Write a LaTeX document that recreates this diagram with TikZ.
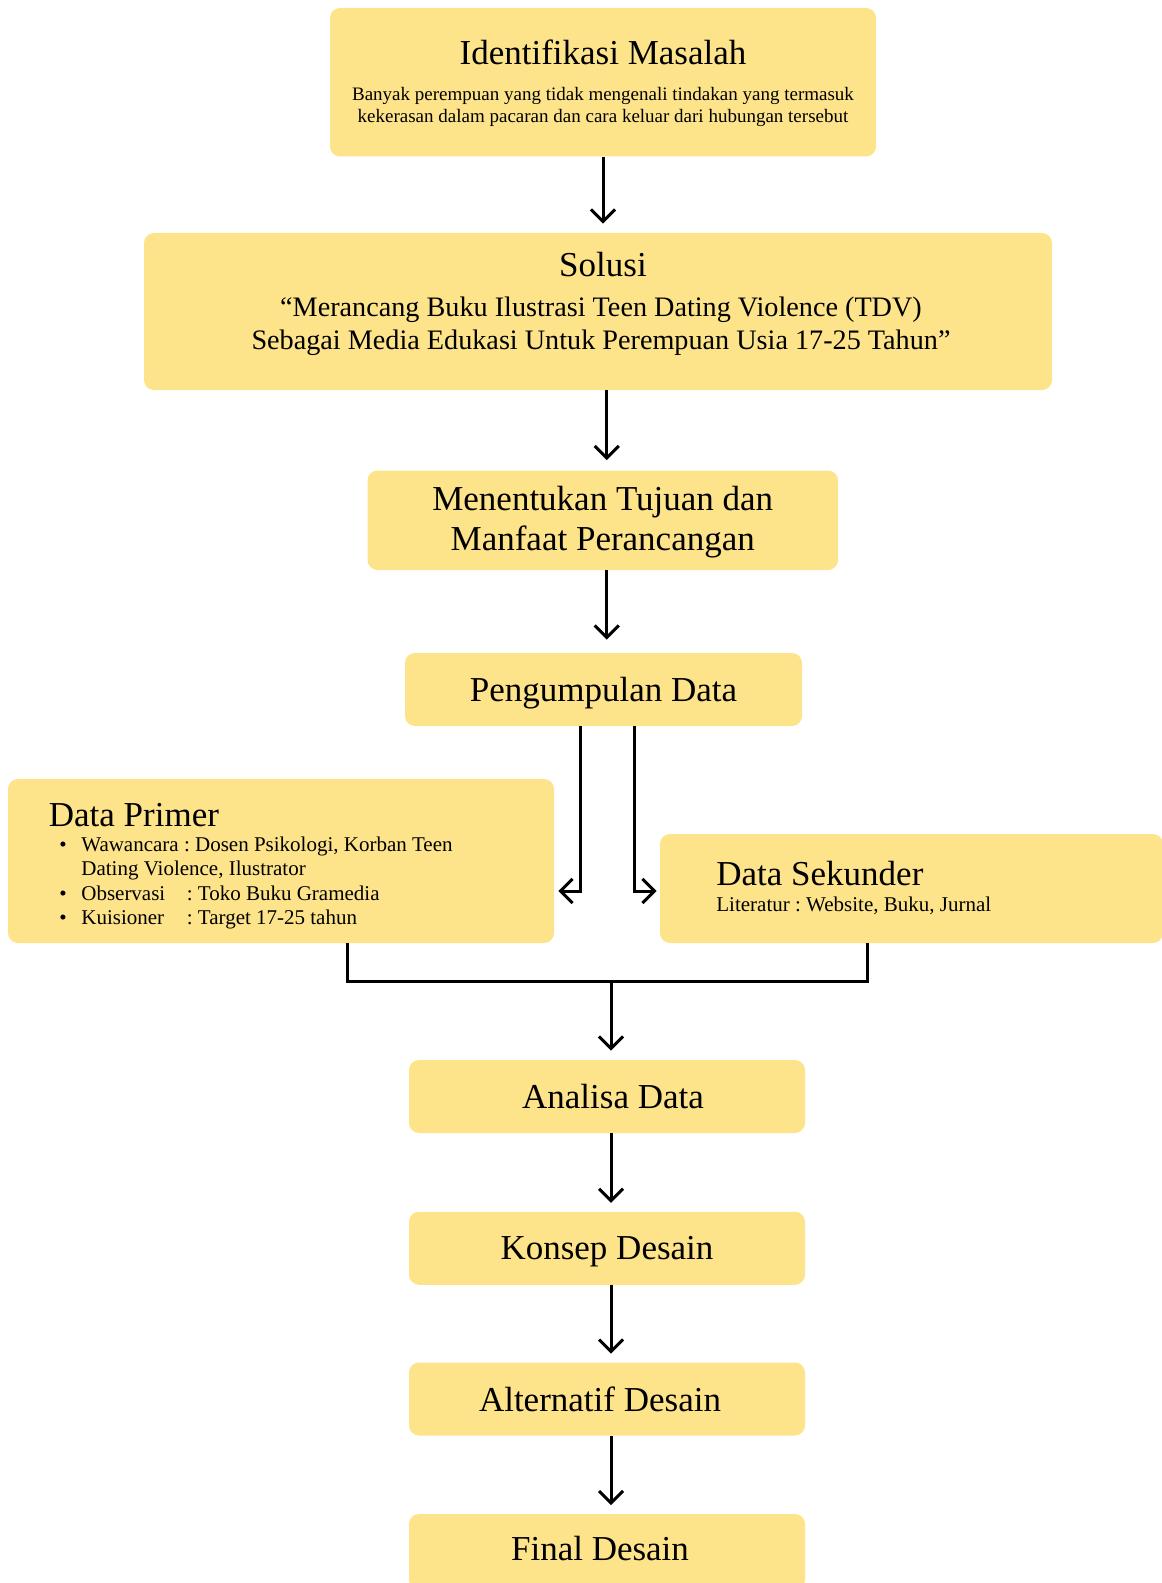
\documentclass[tikz,border=0pt]{standalone}
\usepackage{fontspec}
\setmainfont{Liberation Serif}
\usetikzlibrary{arrows.meta, positioning, calc}
\definecolor{boxyellow}{HTML}{FDE38A}

\begin{document}
\frenchspacing
\begin{tikzpicture}[
  x=0.5pt, y=-0.5pt,
  stepbox/.style={rectangle, fill=boxyellow, rounded corners=5pt, inner sep=0pt, align=center, text depth=0pt, font=\fontsize{17.5}{20.2}\selectfont},
  head/.style={inner sep=0pt, font=\fontsize{17.5}{20.2}\selectfont},
  body/.style={inner sep=0pt, align=center, font=\fontsize{9.5}{11}\selectfont},
  quote/.style={inner sep=0pt, align=center, font=\fontsize{14.1}{16.7}\selectfont},
  list/.style={inner sep=0pt, align=left, font=\fontsize{10.5}{12.15}\selectfont},
  arrow/.style={-{Straight Barb[length=6pt, width=12pt]}, line width=1.5pt},
  line/.style={line width=1.5pt}
]
  \useasboundingbox (0,0) rectangle (1161,1583);

  % boxes
  \node[stepbox, minimum width=273pt, minimum height=74.25pt] (ident) at (603,82.25) {};
  \node[head] (identTitle) at (603,52.5) {Identifikasi Masalah};
  \node[body] (identText) at (603,107) {Banyak perempuan yang tidak mengenali tindakan yang termasuk\\kekerasan dalam pacaran dan cara keluar dari hubungan tersebut};

  \node[stepbox, minimum width=454pt, minimum height=78.5pt] (solusi) at (598,311.5) {};
  \node[head] (solusiTitle) at (603,264.5) {Solusi};
  \node[quote] (solusiText) at (601,326.5) {“Merancang Buku Ilustrasi Teen Dating Violence (TDV)\\Sebagai Media Edukasi Untuk Perempuan Usia 17-25 Tahun”};

  \node[stepbox, minimum width=235.25pt, minimum height=49.75pt, text depth=2pt] (tujuan) at (602.75,520.25) {Menentukan Tujuan dan\\Manfaat Perancangan};
  \node[stepbox, minimum width=198.5pt, minimum height=36.5pt] (kumpul) at (603.5,689.5) {Pengumpulan Data};

  \node[stepbox, minimum width=273pt, minimum height=82pt] (primer) at (281,861) {};
  \node[head, anchor=west] (primerTitle) at (48.5,815) {Data Primer};
  \node[list, anchor=north west] (primerList) at (59,834) {%
    \begin{tabular}{@{}l@{\hspace{7.3pt}}l@{}}
      \textbullet & Wawancara : Dosen Psikologi, Korban Teen\\
                  & Dating Violence, Ilustrator\\
      \textbullet & \makebox[52.75pt][l]{Observasi}: Toko Buku Gramedia\\
      \textbullet & \makebox[52.75pt][l]{Kuisioner}: Target 17-25 tahun
    \end{tabular}};

  \node[stepbox, minimum width=251.5pt, minimum height=54.5pt] (sekunder) at (911.5,888.5) {};
  \node[head, anchor=west] (sekunderTitle) at (716,874) {Data Sekunder};
  \node[list, anchor=west] (sekunderText) at (716,905.6) {Literatur : Website, Buku, Jurnal};

  \node[stepbox, minimum width=198pt, minimum height=36.5pt] (analisa) at (607,1096.5) {\hspace*{6pt}Analisa Data};
  \node[stepbox, minimum width=198pt, minimum height=36.5pt] (konsep) at (607,1248.25) {Konsep Desain};
  \node[stepbox, minimum width=198pt, minimum height=36.5pt] (alternatif) at (607,1399) {\hspace*{-7pt}Alternatif Desain};
  \node[stepbox, minimum width=198pt, minimum height=38pt, text depth=4pt] (final) at (607,1552) {\hspace*{-7pt}Final Desain};

  % connectors
  \draw[arrow, shorten >=4.5pt] (ident.south) -- (ident.south |- solusi.north);
  \draw[arrow, shorten >=5pt] ([xshift=2pt]tujuan.north |- solusi.south) -- ([xshift=2pt]tujuan.north);
  \draw[arrow, shorten >=6.5pt] ([xshift=2pt]tujuan.south) -- ([xshift=2pt]tujuan.south |- kumpul.north);
  \draw[arrow, shorten >=2pt] ($(kumpul.south)+(-23,0)$) |- ($(primer.east)+(0,30)$);
  \draw[arrow, shorten >=1.5pt] ($(kumpul.south)+(30.5,0)$) |- ($(sekunder.west)+(0,2.5)$);
  \draw[line] ($(primer.south)+(66,0)$) -- ++(0,38) coordinate (pj) -| ($(sekunder.south)+(-44.5,0)$);
  \draw[arrow, shorten >=4.5pt] ([xshift=2pt]pj -| analisa.north) -- ([xshift=2pt]analisa.north);
  \foreach \a/\b in {analisa/konsep, konsep/alternatif, alternatif/final}
    \draw[arrow, shorten >=4.25pt] ([xshift=2pt]\a.south) -- ([xshift=2pt]\b.north);
\end{tikzpicture}
\end{document}
